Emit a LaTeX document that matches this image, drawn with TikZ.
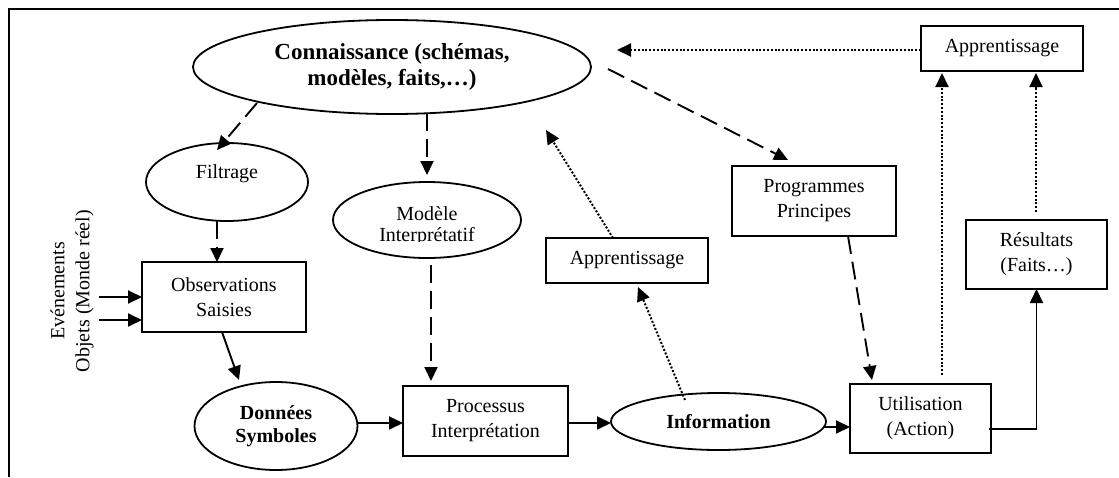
\documentclass[tikz,border=0pt]{standalone}
\usepackage{fontspec}
\setmainfont{Liberation Serif}
\usetikzlibrary{arrows.meta,shapes.geometric,calc}
\begin{document}
\begin{tikzpicture}[x=1pt,y=-1pt,
  every node/.style={inner sep=0pt,outer sep=0pt},
  txt/.style={font=\fontsize{20}{25}\selectfont, align=center},
  oval/.style={draw, ellipse, line width=1.8pt, txt},
  boxnode/.style={draw, rectangle, line width=1.8pt, txt},
  link/.style={line width=1.9pt, -{Triangle[length=14pt,width=13pt]}},
  dashlink/.style={link, dash pattern=on 18pt off 8pt},
  dotlink/.style={link, line width=2pt, dash pattern=on 2pt off 1.8pt},
]
\useasboundingbox (0,0) rectangle (1119,477);
% open frame: top and left edges only
\draw[line width=1.9pt] (1119,9) -- (9,9) -- (9,477);

% ---- nodes ----
\node[oval, minimum width=398pt, minimum height=94pt,
      font=\bfseries\fontsize{23}{26}\selectfont] (con) at (392,67)
      {Connaissance (schémas,\\ modèles, faits,…)};
\node[oval, minimum width=162pt, minimum height=78pt,
      label={[txt,yshift=8pt]center:Filtrage}] (fil) at (227,182) {};
\node[oval, minimum width=188pt, minimum height=76pt] (mod) at (427,220) {};
\begin{scope}
  \clip (320,150) rectangle (540,241);
  \node[txt, font=\fontsize{20}{21.5}\selectfont] (modtxt) at (427,226)
        {Modèle\\Interprétatif};
\end{scope}
\node[boxnode, minimum width=164pt, minimum height=70pt] (obs) at (224,297)
      {Observations\\Saisies};
\node[oval, minimum width=163pt, minimum height=88pt,
      font=\bfseries\fontsize{20}{23}\selectfont] (don) at (276,426)
      {Données\\Symboles};
\node[boxnode, minimum width=165pt, minimum height=70pt] (pro) at (485.5,421)
      {Processus\\Interprétation};
\node[oval, minimum width=215pt, minimum height=57pt,
      font=\bfseries\fontsize{20}{25}\selectfont] (inf) at (718.5,421.5)
      {Information};
\node[boxnode, minimum width=141pt, minimum height=69pt] (uti) at (920.5,418.5)
      {Utilisation\\(Action)};
\node[boxnode, minimum width=141pt, minimum height=69pt] (res) at (1036.5,254.5)
      {Résultats\\(Faits…)};
\node[boxnode, minimum width=162pt, minimum height=45pt] (app1) at (1002,48.5)
      {Apprentissage};
\node[boxnode, minimum width=164pt, minimum height=70pt] (prg) at (814,201)
      {Programmes\\Principes};
\node[boxnode, minimum width=162pt, minimum height=45pt] (app2) at (627,260.5)
      {Apprentissage};
\node[txt, rotate=90] (evt) at (72,291) {Evénements\\Objets (Monde réel)};

% free ends
\coordinate (kc) at (546,130);
\coordinate (kr) at (617,50);
\coordinate (e1) at (99,297);
\coordinate (e2) at (99,320);

% ---- connectors ----
\draw[dashlink] ($(con.center)+(-135,36)$) -- ($(fil.north)+(-10,7)$);
\draw[dashlink] ($(con.center)+(35,46)$) -- ($(mod.north)+(0,-7)$);
\draw[dashlink] ($(fil.south)+(-10,0)$) -- ($(obs.north)+(-7,0)$);
\draw[link] ($(obs.south)+(-2,0)$) -- ($(don.north)+(-37,-2)$);
\draw[link] (e1) -- (obs.west);
\draw[link] (e2) -- ($(obs.west)+(0,23)$);
\draw[link] ($(don.east)+(0,-3)$) -- ($(pro.west)+(0,2)$);
\draw[dashlink] ($(mod.south)+(4,7)$) -- ($(pro.north)+(-54.5,-5)$);
\draw[link] ($(pro.east)+(0,2)$) -- ($(inf.west)+(0,1.5)$);
\draw[dotlink] ($(inf.center)+(-33.5,-21.5)$) -- ($(app2.south)+(11,4)$);
\draw[dotlink] ($(app2.north)+(-14,0)$) -- (kc);
\draw[link] ($(inf.east)+(-2,5.5)$) -- ($(uti.west)+(0,8.5)$);
\draw[dashlink] ($(prg.south)+(34,0)$) -- ($(uti.north)+(-48.5,-4)$);
\draw[dashlink] ($(con.center)+(216,2)$) -- ($(prg.north)+(-26,-6)$);
\draw[dotlink] ($(app1.west)+(0,1.5)$) -- (kr);
\draw[dotlink] ($(uti.north)+(21.5,-9)$) -- ($(app1.south)+(-60,2)$);
\draw[dotlink] ($(res.north)+(-0.5,-8)$) -- ($(app1.south)+(34,2)$);
\draw[link] ($(uti.east)+(-2,10.5)$) -| (res.south);
\end{tikzpicture}
\end{document}
